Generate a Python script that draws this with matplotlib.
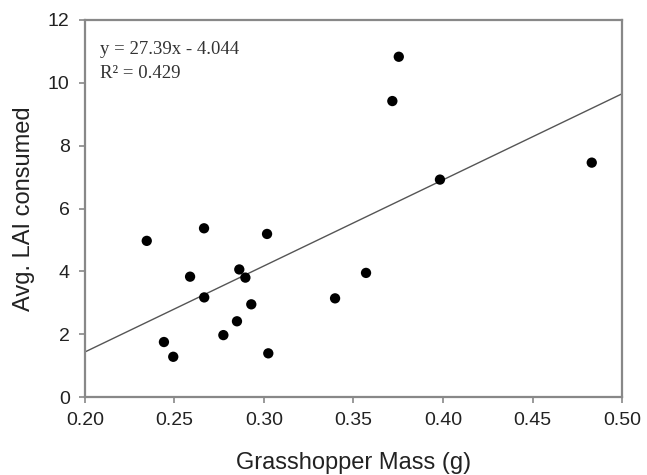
import matplotlib.pyplot as plt
import numpy as np

# grasshopper mass (g) vs avg LAI consumed
mass = [0.2345, 0.2665, 0.3017, 0.2862, 0.2587, 0.2896, 0.3570, 0.2666,
        0.3397, 0.2929, 0.2849, 0.2773, 0.2441, 0.2493, 0.3024, 0.3753,
        0.3717, 0.3983, 0.4831]
lai = [4.97, 5.37, 5.19, 4.06, 3.83, 3.80, 3.95, 3.17, 3.14, 2.95, 2.41,
       1.97, 1.75, 1.28, 1.39, 10.83, 9.42, 6.92, 7.46]

slope, intercept = 27.39, -4.044
fit_x = [0.20, 0.50]
x_ticks = [0.20, 0.25, 0.30, 0.35, 0.40, 0.45, 0.50]
y_ticks = [0, 2, 4, 6, 8, 10, 12]

plt.rcParams["font.family"] = ["Liberation Sans", "DejaVu Sans"]

fig = plt.figure(figsize=(6.47, 4.75), dpi=100)
ax = fig.add_axes([85 / 647, 1 - 397 / 475, 537 / 647, 377 / 475])

fx = np.array(fit_x)
ax.plot(fx, slope * fx + intercept, color="#555555", lw=1.0, zorder=2)
ax.scatter(mass, lai, s=55, color="black", zorder=3, edgecolors="none")

ax.set_xlim(0.20, 0.50)
ax.set_ylim(0, 12)
ax.set_xticks(x_ticks)
ax.set_xticklabels([f"{v:.2f}" for v in x_ticks])
ax.set_yticks(y_ticks)

for sp in ax.spines.values():
    sp.set_color("#888888")
    sp.set_linewidth(1.6)
ax.tick_params(direction="out", length=4, width=1.2, color="#888888",
               labelsize=14, labelcolor="#222222", pad=7)

ax.set_xlabel("Grasshopper Mass (g)", fontsize=17, color="#222222", labelpad=16)
ax.set_ylabel("Avg. LAI consumed", fontsize=17, color="#222222", labelpad=9)

ax.text(0.028, 0.923, f"y = {slope}x - {abs(intercept)}", transform=ax.transAxes,
        family="Liberation Serif", fontsize=13.5, color="#333333", va="center")
ax.text(0.028, 0.859, "R² = 0.429", transform=ax.transAxes,
        family="Liberation Serif", fontsize=13.5, color="#333333", va="center")

fig.savefig("out.png", dpi=100)
